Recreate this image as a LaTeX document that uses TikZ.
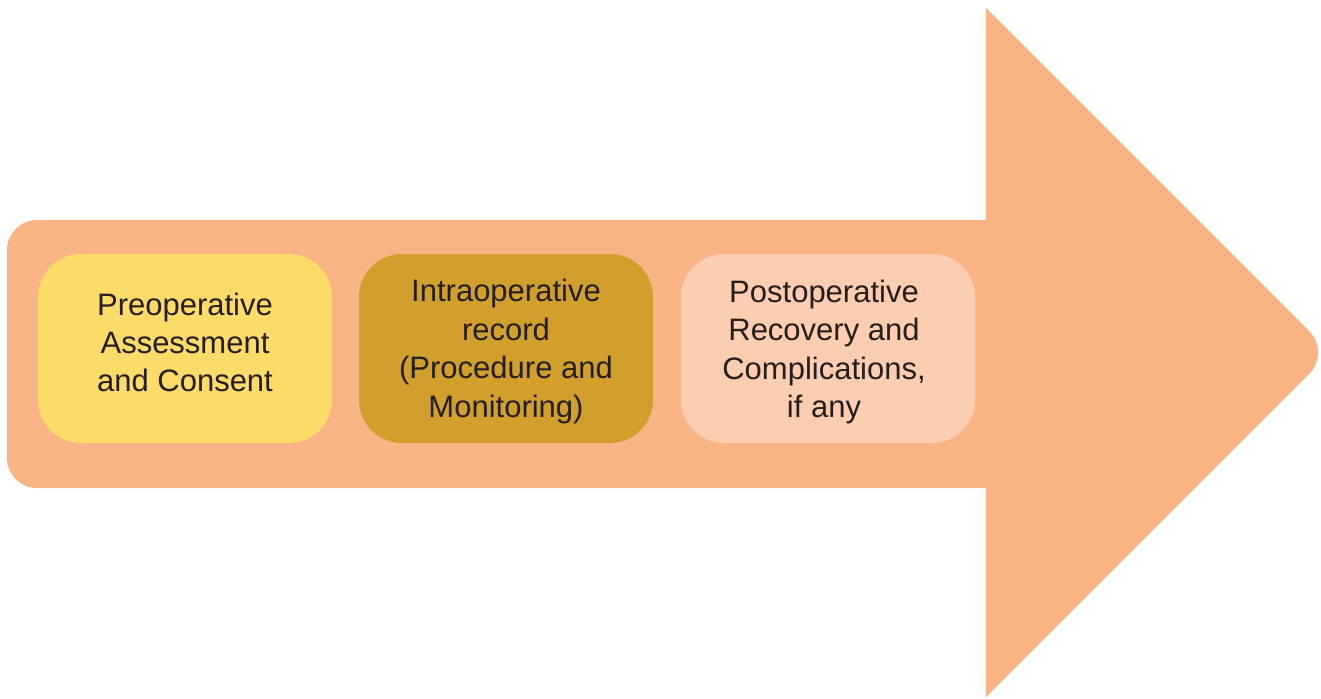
\documentclass[tikz,border=0pt]{standalone}
\usepackage{fontspec}
\setmainfont{Liberation Sans}
\definecolor{arrowc}{HTML}{F9B486}
\definecolor{boxa}{HTML}{FDDB68}
\definecolor{boxb}{HTML}{D29F2C}
\definecolor{boxc}{HTML}{FCCDB0}
\definecolor{txt}{HTML}{231F20}
\begin{document}
\begin{tikzpicture}[x=1pt,y=-1pt,
  stage/.style={rounded corners=43pt, minimum width=294pt, minimum height=189pt,
    inner sep=0pt},
  stagetext/.style={inner sep=0pt, text=txt, align=center, font=\fontsize{31}{38.4}\selectfont}]
\useasboundingbox (0,0) rectangle (1321,698);
% arrow body
\fill[arrowc, rounded corners=30pt] (7,220) rectangle (1020,488);
% arrow head with rounded tip
\fill[arrowc] (986,8) -- (1309.29,331.29) arc[start angle=-45, end angle=45, radius=30]
  -- (986,697) -- cycle;
\node[stage, fill=boxa] (pre) at (185,348.5) {};
\node[stage, fill=boxb] (intra) at (506,348.5) {};
\node[stage, fill=boxc] (post) at (828,348.5) {};
\node[stagetext] (pret) at (185,342.5) {Preoperative\\Assessment\\and Consent};
\node[stagetext] (intrat) at (506,351.5) {Intraoperative\\record\\(Procedure and\\Monitoring)};
\node[stagetext] (postt) at (824,352) {Postoperative\\Recovery and\\Complications,\\if any};
\end{tikzpicture}
\end{document}
